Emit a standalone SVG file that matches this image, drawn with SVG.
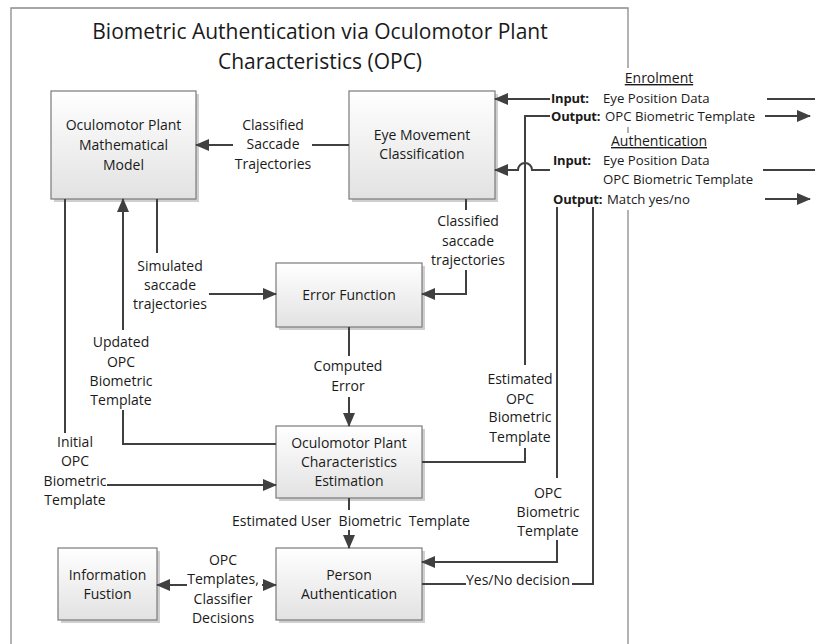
<svg xmlns="http://www.w3.org/2000/svg" width="825" height="644" viewBox="0 0 825 644">
<style>
text{font-family:"Open Sans","Liberation Sans",sans-serif;font-size:14px;fill:#1a1a1a}
.c{text-anchor:middle}
.t{font-size:21px;text-anchor:middle}
.p{font-size:13.2px}
.b{font-weight:bold;font-size:13px;letter-spacing:-0.2px}
.u{text-decoration:underline}
.box{fill:url(#g);stroke:#7a7a7a;stroke-width:1.2}
.sh{fill:#cfcfcf}
.ln{fill:none;stroke:#404040;stroke-width:2}
.ar{fill:none;stroke:#404040;stroke-width:2;marker-end:url(#ah)}
.fr{fill:none;stroke:#8a8a8a;stroke-width:1.3}
</style>
<defs>
<linearGradient id="g" x1="0" y1="0" x2="0" y2="1">
<stop offset="0" stop-color="#ffffff"/>
<stop offset="1" stop-color="#e2e2e2"/>
</linearGradient>
<marker id="ah" markerUnits="userSpaceOnUse" markerWidth="14" markerHeight="12" viewBox="0 0 14 12" refX="13" refY="6" orient="auto-start-reverse">
<path d="M0,0 L14,6 L0,12 Z" fill="#404040"/>
</marker>
</defs>
<rect width="825" height="644" fill="#ffffff"/>
<g id="frame">
<path class="fr" d="M11,644 V8 H628 V68 M628,127 V133 M628,210 V644"/>
</g>
<g id="title">
<text class="t" x="320" y="39">Biometric Authentication via Oculomotor Plant</text>
<text class="t" x="320" y="69">Characteristics (OPC)</text>
</g>
<g id="n-model">
<rect class="sh" x="54" y="94" width="145" height="108"/>
<rect class="box" x="51" y="91" width="145" height="108"/>
<text class="c" x="123.5" y="130">Oculomotor Plant</text>
<text class="c" x="123.5" y="150">Mathematical</text>
<text class="c" x="123.5" y="170">Model</text>
</g>
<g id="n-emc">
<rect class="sh" x="352" y="94" width="146" height="108"/>
<rect class="box" x="349" y="91" width="146" height="108"/>
<text class="c" x="422" y="140">Eye Movement</text>
<text class="c" x="422" y="159">Classification</text>
</g>
<g id="n-error">
<rect class="sh" x="279" y="266" width="146" height="64"/>
<rect class="box" x="276" y="263" width="146" height="64"/>
<text class="c" x="349" y="300">Error Function</text>
</g>
<g id="n-estimation">
<rect class="sh" x="279" y="429" width="146" height="72"/>
<rect class="box" x="276" y="426" width="146" height="72"/>
<text class="c" x="349" y="448">Oculomotor Plant</text>
<text class="c" x="349" y="467">Characteristics</text>
<text class="c" x="349" y="486">Estimation</text>
</g>
<g id="n-person">
<rect class="sh" x="279" y="551" width="146" height="72"/>
<rect class="box" x="276" y="548" width="146" height="72"/>
<text class="c" x="349" y="580">Person</text>
<text class="c" x="349" y="599">Authentication</text>
</g>
<g id="n-fusion">
<rect class="sh" x="61" y="551" width="99" height="72"/>
<rect class="box" x="58" y="548" width="99" height="72"/>
<text class="c" x="107.5" y="580">Information</text>
<text class="c" x="107.5" y="599">Fustion</text>
</g>
<g id="io-panel">
<text class="c u" x="659" y="83">Enrolment</text>
<text class="b" x="551" y="103">Input:</text>
<text class="p" x="603" y="103">Eye Position Data</text>
<text class="b" x="551" y="121">Output:</text>
<text class="p" x="605" y="121">OPC Biometric Template</text>
<text class="c u" x="659" y="146">Authentication</text>
<text class="b" x="553" y="165">Input:</text>
<text class="p" x="603" y="165">Eye Position Data</text>
<text class="p" x="603" y="184">OPC Biometric Template</text>
<text class="b" x="553" y="204">Output:</text>
<text class="p" x="607" y="204">Match yes/no</text>
</g>
<g id="connectors">
<path class="ln" d="M349,145 H312"/>
<path class="ar" d="M233,145 H196"/>
<text class="c" x="273" y="130">Classified</text>
<text class="c" x="273" y="149">Saccade</text>
<text class="c" x="273" y="169">Trajectories</text>

<path class="ln" d="M157,199 V253"/>
<path class="ar" d="M209,294 H276"/>
<text class="c" x="170" y="271">Simulated</text>
<text class="c" x="170" y="290">saccade</text>
<text class="c" x="170" y="309">trajectories</text>

<path class="ln" d="M466,199 V210"/>
<path class="ar" d="M466,270 V294 H422"/>
<text class="c" x="468" y="226">Classified</text>
<text class="c" x="468" y="246">saccade</text>
<text class="c" x="468" y="265">trajectories</text>

<path class="ln" d="M349,327 V356"/>
<path class="ar" d="M349,397 V426"/>
<text class="c" x="348" y="371">Computed</text>
<text class="c" x="348" y="391">Error</text>

<path class="ln" d="M276,444 H123 V410"/>
<path class="ar" d="M123,330 V199"/>
<text class="c" x="121" y="347">Updated</text>
<text class="c" x="121" y="367">OPC</text>
<text class="c" x="121" y="386">Biometric</text>
<text class="c" x="121" y="405">Template</text>

<path class="ln" d="M65,199 V433"/>
<path class="ar" d="M107,485 H276"/>
<text class="c" x="75" y="447">Initial</text>
<text class="c" x="75" y="466">OPC</text>
<text class="c" x="75" y="486">Biometric</text>
<text class="c" x="75" y="505">Template</text>

<path class="ln" d="M349,498 V510"/>
<path class="ar" d="M349,530 V548"/>
<text class="c" x="351" y="526" style="white-space:pre">Estimated User  Biometric  Template</text>

<path class="ln" d="M422,462 H525 V448"/>
<path class="ln" d="M525,365 V116 H550"/>
<text class="c" x="520" y="384">Estimated</text>
<text class="c" x="520" y="404">OPC</text>
<text class="c" x="520" y="422">Biometric</text>
<text class="c" x="520" y="442">Template</text>

<path class="ar" d="M550,99 H495"/>
<path class="ar" d="M550,170 H532 A7,7 0 0 0 518,170 H495"/>
<path class="ar" d="M765,116 H810"/>
<path class="ln" d="M767,99 H815"/>
<path class="ln" d="M763,170 H815"/>
<path class="ar" d="M765,199 H810"/>

<path class="ln" d="M557,207 V478"/>
<path class="ar" d="M557,540 V562 H422"/>
<text class="c" x="548" y="498">OPC</text>
<text class="c" x="548" y="517">Biometric</text>
<text class="c" x="548" y="536">Template</text>

<path class="ln" d="M593,207 V584 H572"/>
<path class="ln" d="M466,584 H422"/>
<text class="c" x="518" y="585">Yes/No decision</text>

<path class="ar" d="M187,585 H157"/>
<path class="ar" d="M262,585 H276"/>
<text class="c" x="223" y="565">OPC</text>
<text class="c" x="223" y="584">Templates,</text>
<text class="c" x="223" y="604">Classifier</text>
<text class="c" x="223" y="623">Decisions</text>
</g>
</svg>
